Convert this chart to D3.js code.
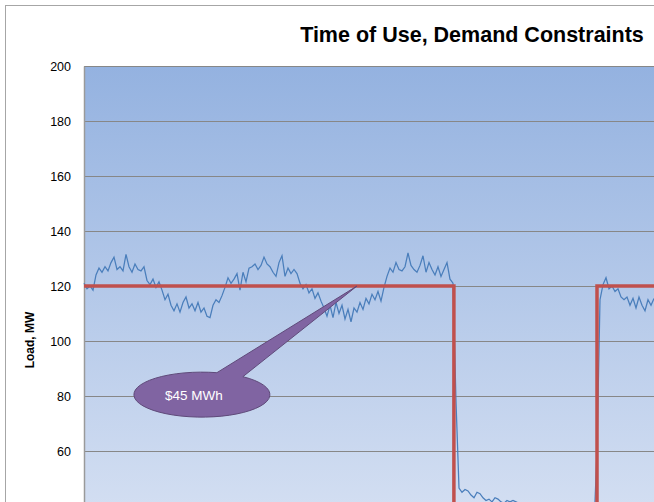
<!DOCTYPE html>
<html>
<head>
<meta charset="utf-8">
<script src="https://cdn.jsdelivr.net/npm/d3@7"></script>
<style>
  body { margin: 0; background: #fff; }
  text { font-family: "Liberation Sans", Arial, sans-serif; }
</style>
</head>
<body>
<div id="chart"></div>
<script>
// load samples, one every interval
var load = [
    121, 119, 120, 118.5, 124, 126.5, 125, 127, 125.5, 128.5,
    130.5, 126, 127, 125.5, 131.5, 127, 125, 128, 126, 125.5,
    127, 122, 120.5, 122.5, 119.5, 121.5, 118.5, 115, 117, 113,
    111, 113.5, 110.5, 114, 116, 112, 113.5, 111, 114, 110.5,
    112, 109, 108.5, 113, 115, 114, 116.5, 119.5, 123, 121,
    122.5, 124.5, 118.5, 125, 121.5, 126.5, 127, 128, 126, 127.5,
    130.5, 128, 127, 125, 123.5, 128.5, 131, 123.5, 126.5, 124.5,
    126, 124.5, 121, 119, 120.5, 117.5, 119, 115.5, 117.5, 114.5,
    112, 109, 113, 108.5, 114, 110, 113, 108, 111.5, 107,
    112, 110.5, 114, 111.5, 115.5, 113.5, 117, 115, 118, 114.5,
    119.5, 123.5, 126.5, 125, 128.5, 126, 125.5, 127, 132, 127.5,
    126, 125, 127.5, 131, 125, 128.5, 126, 124, 127, 123.5,
    126, 128.5, 122.5, 121, 78, 46.5, 45, 46, 45.5, 44,
    43, 45, 44.5, 43, 42, 42.5, 41.5, 43, 42.5, 41.5,
    41, 42, 41.5, 42, 41.5, 41, 40.5, 40, 39.5, 40,
    39, 38.5, 38, 38.5, 37.5, 37, 37.5, 36.5, 36, 36.5,
    35.5, 35, 35.5, 34.5, 34, 34.5, 33.5, 33, 33.5, 33,
    32.5, 60, 115, 120.5, 123, 119, 120, 118, 119, 116,
    115, 116, 113, 115.5, 112, 116, 113, 111, 115, 113,
    115.5
];

// demand constraint, step line (interval, MW)
var limitT = [0, 123.3, 123.3, 171, 171, 260];
var limitV = [120, 120, 0, 0, 120, 120];

var yTicks = [0, 20, 40, 60, 80, 100, 120, 140, 160, 180, 200];

var title = "Time of Use, Demand Constraints",
    yTitle = "Load, MW",
    note = "$45 MWh";

// callout: tip on the line, bubble centre (interval, MW)
var noteTip = [91, 120],
    noteAt = [39.3, 80.5];

var margin = {
        top: 66,
        left: 84
    },
    width = 780,
    height = 550;

var svg = d3.select("#chart")
    .append("svg")
    .attr("width", 654)
    .attr("height", 502);

// chart border
svg.append("rect")
    .attr("x", 5.5)
    .attr("y", 5.5)
    .attr("width", 1200)
    .attr("height", 1200)
    .attr("fill", "white")
    .attr("stroke", "#a6a6a6");

var defs = svg.append("defs");
var grad = defs.append("linearGradient")
    .attr("id", "bg")
    .attr("x1", 0).attr("y1", 0)
    .attr("x2", 0).attr("y2", 1);
grad.append("stop").attr("offset", "0%").attr("stop-color", "#94b2e0");
grad.append("stop").attr("offset", "100%").attr("stop-color", "#e2e9f6");

var g = svg.append("g")
    .attr("transform", "translate(" + margin.left + "," + margin.top + ")");

var x = d3.scaleLinear()
    .domain([0, 260])
    .range([0, width]);

var y = d3.scaleLinear()
    .domain([0, 200])
    .range([height, 0]);

g.append("rect")
    .attr("width", width)
    .attr("height", height)
    .attr("fill", "url(#bg)");

// gridlines
g.selectAll(".grid")
    .data(yTicks)
    .enter()
    .append("line")
    .attr("class", "grid")
    .attr("x1", 0)
    .attr("x2", width)
    .attr("y1", d => Math.round(y(d)) + 0.5)
    .attr("y2", d => Math.round(y(d)) + 0.5)
    .attr("stroke", "#878787")
    .attr("stroke-width", 1);

// y axis
var yAxis = d3.axisLeft(y)
    .tickValues(yTicks)
    .tickSize(0)
    .tickPadding(13);

g.append("g")
    .attr("class", "y-axis")
    .call(yAxis)
    .call(a => a.select(".domain").attr("stroke", "#9a9a9a").attr("stroke-width", 1.5))
    .selectAll("text")
    .attr("font-size", "12.5px")
    .attr("font-family", "Liberation Sans, Arial, sans-serif")
    .attr("fill", "#000");

// load line
g.append("path")
    .datum(load)
    .attr("d", d3.line()
        .x((d, i) => x(i))
        .y(d => y(d)))
    .attr("fill", "none")
    .attr("stroke", "#4a7ebb")
    .attr("stroke-width", 1.25);

// constraint
g.append("path")
    .datum(limitT.map((t, i) => [t, limitV[i]]))
    .attr("d", d3.line()
        .x(d => x(d[0]))
        .y(d => y(d[1])))
    .attr("fill", "none")
    .attr("stroke", "#c0504d")
    .attr("stroke-width", 3.5);

// callout bubble: ellipse + wedge as one shape
var cx = x(noteAt[0]),
    cy = y(noteAt[1]),
    tx = x(noteTip[0]),
    ty = y(noteTip[1]),
    rx = 68,
    ry = 22.5;

function onEllipse(dx) {
    return [cx + dx, cy - ry * Math.sqrt(1 - (dx / rx) * (dx / rx))];
}
var p1 = onEllipse(15),
    p2 = onEllipse(41);

g.append("path")
    .attr("d", "M" + p1 + "L" + tx + "," + ty + "L" + p2 +
        "A" + rx + "," + ry + " 0 1 1 " + p1 + "Z")
    .attr("fill", "#8064a2")
    .attr("stroke", "#5f4a7a")
    .attr("stroke-width", 1);

g.append("text")
    .attr("x", cx - 8)
    .attr("y", cy + 5)
    .attr("text-anchor", "middle")
    .attr("font-size", "13.5px")
    .attr("fill", "white")
    .text(note);

// titles
svg.append("text")
    .attr("x", 472)
    .attr("y", 42)
    .attr("text-anchor", "middle")
    .attr("font-size", "21.5px")
    .attr("font-weight", "bold")
    .text(title);

svg.append("text")
    .attr("transform", "translate(34," + 340 + ") rotate(-90)")
    .attr("text-anchor", "middle")
    .attr("font-size", "12px")
    .attr("font-weight", "bold")
    .text(yTitle);
</script>
</body>
</html>
